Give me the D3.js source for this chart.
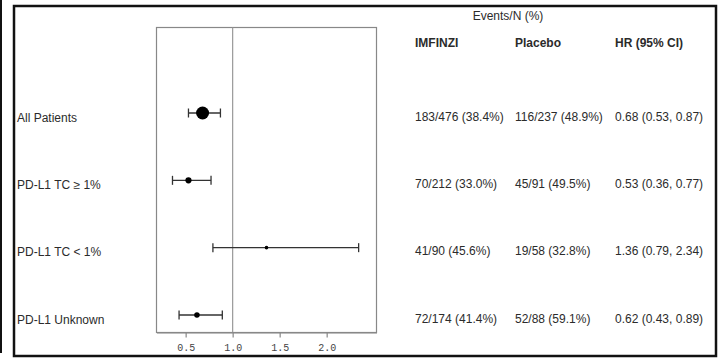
<!DOCTYPE html>
<meta charset="utf-8">
<style>
body { margin: 0; background: #fff; }
text { font-family: "Liberation Sans", Arial, sans-serif; fill: #2b2b2b; }
.axis text { font-family: "Liberation Mono", "Courier New", monospace; font-size: 10px; fill: #444; }
.axis path, .axis line { stroke: #888; stroke-width: 1.2px; }
</style>
<body>
<script src="https://cdn.jsdelivr.net/npm/d3@7"></script>
<script>
// subgroup rows
var groups = ["All Patients", "PD-L1 TC \u2265 1%", "PD-L1 TC < 1%", "PD-L1 Unknown"];
var hr     = [0.68, 0.53, 1.36, 0.62];
var lower  = [0.53, 0.36, 0.79, 0.43];
var upper  = [0.87, 0.77, 2.34, 0.89];
var imfEvents = [183, 70, 41, 72],  imfN = [476, 212, 90, 174];
var plaEvents = [116, 45, 19, 52],  plaN = [237, 91, 58, 88];
var xTicks = [0.5, 1.0, 1.5, 2.0];
var headers = ["IMFINZI", "Placebo", "HR (95% CI)"];

var width = 725, height = 358;

var svg = d3.select("body").append("svg")
    .attr("width", width)
    .attr("height", height);

// outer frame
svg.append("line")
    .attr("x1", 1).attr("x2", 1).attr("y1", 0).attr("y2", 353)
    .attr("stroke", "#111").attr("stroke-width", 2);
svg.append("rect")
    .attr("x", 14).attr("y", 6).attr("width", 702).attr("height", 350)
    .attr("fill", "none").attr("stroke", "#111").attr("stroke-width", 2.5);

var x = d3.scaleLinear().domain([0.19, 2.53]).range([156.5, 376.5]);
var y = d3.scalePoint().domain(groups).range([113, 315]);
var totals = groups.map(function(g, i) { return imfN[i] + plaN[i]; });
var r = d3.scaleLinear().domain(d3.extent(totals)).range([1.8, 6.5]);

var plotTop = 27.5, plotBottom = 332.5;

// plot box
svg.append("rect")
    .attr("x", x.range()[0]).attr("y", plotTop)
    .attr("width", x.range()[1] - x.range()[0]).attr("height", plotBottom - plotTop)
    .attr("fill", "none").attr("stroke", "#888").attr("stroke-width", 1.2);

// reference line at HR = 1
svg.append("line")
    .attr("x1", x(1)).attr("x2", x(1)).attr("y1", plotTop).attr("y2", plotBottom)
    .attr("stroke", "#999").attr("stroke-width", 1.2);

svg.append("g")
    .attr("class", "axis")
    .attr("transform", "translate(0," + plotBottom + ")")
    .call(d3.axisBottom(x).tickValues(xTicks).tickFormat(d3.format(".1f"))
      .tickSizeInner(5).tickSizeOuter(0).tickPadding(6));

var rows = svg.selectAll("g.row")
    .data(groups)
  .enter().append("g")
    .attr("class", "row")
    .attr("transform", function(d) { return "translate(0," + y(d) + ")"; });

rows.append("line")
    .attr("x1", function(d, i) { return x(lower[i]); })
    .attr("x2", function(d, i) { return x(upper[i]); })
    .attr("stroke", "#333").attr("stroke-width", 1.3);

[lower, upper].forEach(function(arr) {
  rows.append("line")
      .attr("x1", function(d, i) { return x(arr[i]); })
      .attr("x2", function(d, i) { return x(arr[i]); })
      .attr("y1", -4.5).attr("y2", 4.5)
      .attr("stroke", "#333").attr("stroke-width", 1.3);
});

rows.append("circle")
    .attr("cx", function(d, i) { return x(hr[i]); })
    .attr("r", function(d, i) { return r(totals[i]); })
    .attr("fill", "#000");

rows.append("text")
    .attr("x", 17).attr("y", 8.5)
    .style("font-size", "12px")
    .text(function(d) { return d; });

function pct(e, n) { return e + "/" + n + " (" + (100 * e / n).toFixed(1) + "%)"; }
var f2 = d3.format(".2f");
var colX = [415, 515, 615];

rows.append("text").attr("x", colX[0]).attr("y", 7.5).style("font-size", "12px")
    .text(function(d, i) { return pct(imfEvents[i], imfN[i]); });
rows.append("text").attr("x", colX[1]).attr("y", 7.5).style("font-size", "12px")
    .text(function(d, i) { return pct(plaEvents[i], plaN[i]); });
rows.append("text").attr("x", colX[2]).attr("y", 7.5).style("font-size", "12px")
    .text(function(d, i) { return f2(hr[i]) + " (" + f2(lower[i]) + ", " + f2(upper[i]) + ")"; });

// headers
svg.append("text")
    .attr("x", 508).attr("y", 20)
    .attr("text-anchor", "middle")
    .style("font-size", "12px")
    .text("Events/N (%)");

svg.selectAll("text.head")
    .data(headers)
  .enter().append("text")
    .attr("class", "head")
    .attr("x", function(d, i) { return colX[i]; })
    .attr("y", 47)
    .style("font-size", "12px")
    .style("font-weight", "bold")
    .text(function(d) { return d; });
</script>
